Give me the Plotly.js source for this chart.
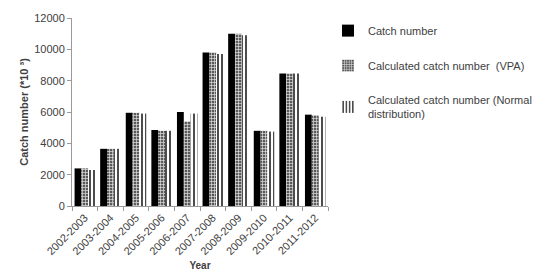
<!DOCTYPE html>
<html><head><meta charset="utf-8">
<script src="https://cdn.plot.ly/plotly-3.0.1.min.js"></script>
<style>body{margin:0;background:#fff}#c{width:549px;height:271px}</style>
</head><body><div id="c"></div>
<script>
const years = ["2002-2003","2003-2004","2004-2005","2005-2006","2006-2007","2007-2008","2008-2009","2009-2010","2010-2011","2011-2012"];
const catchNumber = [2400,3650,5950,4850,6000,9800,11000,4800,8450,5830];
const vpaNumber = [2400,3650,5950,4800,5400,9800,11000,4800,8450,5800];
const normalNumber = [2300,3650,5900,4800,5900,9700,10900,4750,8450,5700];
const seriesNames = ["Catch number","Calculated catch number  (VPA)","Calculated catch number (Normal<br>distribution)"];

const traces = [
  {type:'bar', x:years, y:catchNumber, name:seriesNames[0], legendgroup:'a',
   marker:{color:'#000', line:{width:0}}},
  {type:'bar', x:years, y:vpaNumber, name:seriesNames[1], legendgroup:'b',
   marker:{color:'#8a8a8a', line:{width:0}, pattern:{shape:'+', fgcolor:'#e0e0e0', bgcolor:'#5a5a5a', size:3, solidity:0.4}}},
  {type:'bar', x:years, y:normalNumber, name:seriesNames[2], legendgroup:'c',
   marker:{color:'#fff', line:{width:0}, pattern:{shape:'|', fgcolor:'#000', bgcolor:'#fff', size:4, solidity:0.35}}}
];
const ff = '"Liberation Sans", Arial, sans-serif';
Plotly.newPlot('c', traces, {
  width:549, height:271,
  margin:{l:72, r:174, t:18, b:65},
  paper_bgcolor:'#fff', plot_bgcolor:'#fff',
  font:{family:ff, color:'#404040', size:11},
  barmode:'group', bargap:0.2, bargroupgap:0,
  showlegend:true,
  legend:{x:1.0, xanchor:'left', y:1.01, yanchor:'top', font:{size:11, color:'#404040', family:ff},
          tracegroupgap:16, itemwidth:30, traceorder:'grouped'},
  xaxis:{type:'category', tickangle:-45, showline:true, linecolor:'#9a9a9a', linewidth:1,
         ticks:'outside', tickson:'boundaries', tickcolor:'#9a9a9a', ticklen:4,
         tickfont:{size:11, color:'#404040'}, showgrid:false,
         title:{text:'<b>Year</b>', font:{size:10, color:'#404040'}, standoff:6}},
  yaxis:{range:[0,12000], dtick:2000, tickformat:'d', showline:true, linecolor:'#9a9a9a', linewidth:1,
         ticks:'outside', tickcolor:'#9a9a9a', ticklen:4, showgrid:false, zeroline:false,
         tickfont:{size:11, color:'#404040'},
         title:{text:'<b>Catch number (*10 ³)</b>', font:{size:11, color:'#404040'}, standoff:3}}
}, {staticPlot:true});
</script></body></html>
